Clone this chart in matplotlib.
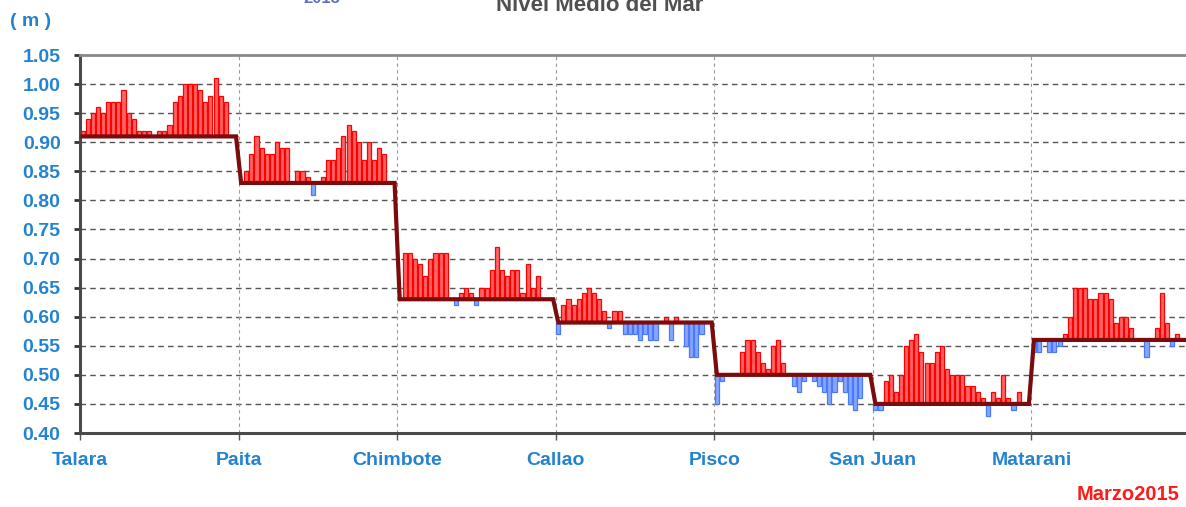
import numpy as np
import matplotlib
matplotlib.use("Agg")
from matplotlib import pyplot as plt

plt.rcParams['font.family'] = ['Liberation Sans', 'DejaVu Sans']

# stations along the coast and their mean sea level (m)
stations = ['Talara', 'Paita', 'Chimbote', 'Callao', 'Pisco', 'San Juan', 'Matarani']
mean_level = [0.91, 0.83, 0.63, 0.59, 0.50, 0.45, 0.56]

# daily sea level, March 2015 (31 days per station)
talara = [0.92, 0.94, 0.95, 0.96, 0.95, 0.97, 0.97, 0.97, 0.99, 0.95, 0.94, 0.92, 0.92, 0.92, 0.91, 0.92,
          0.92, 0.93, 0.97, 0.98, 1.00, 1.00, 1.00, 0.99, 0.97, 0.98, 1.01, 0.98, 0.97, 0.91, 0.91]
paita = [0.83, 0.85, 0.88, 0.91, 0.89, 0.88, 0.88, 0.90, 0.89, 0.89, 0.83, 0.85, 0.85, 0.84, 0.81, 0.83,
         0.84, 0.87, 0.87, 0.89, 0.91, 0.93, 0.92, 0.90, 0.87, 0.90, 0.87, 0.89, 0.88, 0.83, 0.83]
chimbote = [0.63, 0.71, 0.71, 0.70, 0.69, 0.67, 0.70, 0.71, 0.71, 0.71, 0.63, 0.62, 0.64, 0.65, 0.64, 0.62,
            0.65, 0.65, 0.68, 0.72, 0.68, 0.67, 0.68, 0.68, 0.64, 0.69, 0.65, 0.67, 0.63, 0.63, 0.63]
callao = [0.57, 0.62, 0.63, 0.62, 0.63, 0.64, 0.65, 0.64, 0.63, 0.61, 0.58, 0.61, 0.61, 0.57, 0.57, 0.57,
          0.56, 0.57, 0.56, 0.56, 0.59, 0.60, 0.56, 0.60, 0.59, 0.55, 0.53, 0.53, 0.57, 0.59, 0.59]
pisco = [0.45, 0.49, 0.50, 0.50, 0.50, 0.54, 0.56, 0.56, 0.54, 0.52, 0.51, 0.55, 0.56, 0.52, 0.50, 0.48,
         0.47, 0.49, 0.50, 0.49, 0.48, 0.47, 0.45, 0.47, 0.49, 0.47, 0.45, 0.44, 0.46, 0.50, 0.50]
san_juan = [0.44, 0.44, 0.49, 0.50, 0.47, 0.50, 0.55, 0.56, 0.57, 0.54, 0.52, 0.52, 0.54, 0.55, 0.51, 0.50,
            0.50, 0.50, 0.48, 0.48, 0.47, 0.46, 0.43, 0.47, 0.46, 0.50, 0.46, 0.44, 0.47, 0.45, 0.45]
matarani = [0.54, 0.54, 0.56, 0.54, 0.54, 0.55, 0.57, 0.60, 0.65, 0.65, 0.65, 0.63, 0.63, 0.64, 0.64, 0.63,
            0.59, 0.60, 0.60, 0.58, 0.56, 0.56, 0.53, 0.56, 0.58, 0.64, 0.59, 0.55, 0.57, 0.56, 0.56]

daily = [talara, paita, chimbote, callao, pisco, san_juan, matarani]
ndays = 31

blue_txt = '#2383d0'
W, H = 1186, 507

fig = plt.figure(figsize=(W / 100, H / 100), dpi=100)
ax = fig.add_axes([80 / W, 1 - 433 / H, 1110 / W, 378 / H])

level = np.concatenate(daily)
base = np.repeat(mean_level, ndays)
x = np.arange(len(level)) + 0.5
up = level >= base

ax.bar(x[up], (level - base)[up], bottom=base[up], width=0.8,
       facecolor='#ff6464', edgecolor='#ff0000', linewidth=0.9, zorder=3)
ax.bar(x[~up], (level - base)[~up], bottom=base[~up], width=0.8,
       facecolor='#86a6ff', edgecolor='#4a78ff', linewidth=0.9, zorder=3)
ax.plot(x, base, color='#7a0c0c', lw=3, zorder=4, solid_joinstyle='miter')

ax.set_xlim(0, len(level))
ax.set_ylim(0.40, 1.05)
yt = np.round(np.arange(0.40, 1.051, 0.05), 2)
ax.set_yticks(yt)
ax.set_yticklabels(['%.2f' % v for v in yt])
xt = np.arange(len(stations)) * ndays
ax.set_xticks(xt)
ax.set_xticklabels(stations)

for v in yt[1:-1]:
    ax.axhline(v, color='#555555', lw=1, ls=(0, (4, 3)), zorder=1)
for v in xt[1:]:
    ax.axvline(v, color='#9a9a9a', lw=0.8, ls=(0, (3, 3)), zorder=1)

for side in ['left', 'bottom']:
    ax.spines[side].set_color('#4a4a4a')
    ax.spines[side].set_linewidth(2.2)
ax.spines['top'].set_color('#8a8a8a')
ax.spines['top'].set_linewidth(2)
ax.spines['right'].set_visible(False)

ax.tick_params(axis='y', length=4, width=2, color='#333333', pad=10,
               labelsize=14, labelcolor=blue_txt)
ax.tick_params(axis='x', length=5, width=1, color='#555555', pad=9,
               labelsize=14, labelcolor=blue_txt)
for lab in ax.get_xticklabels() + ax.get_yticklabels():
    lab.set_fontweight('bold')

fig.text(31 / W, 1 - 22 / H, '( m )', color=blue_txt, fontsize=14,
         fontweight='bold', ha='center', va='center')
fig.text(1077 / W, 1 - 495 / H, 'Marzo2015', color='#ff1a1a', fontsize=14.5,
         fontweight='bold', ha='left', va='center')

# header lines sit above the top edge, only their lower part shows
fig.text(600 / W, 1 - 11 / H, 'Nivel Medio del Mar', color='#505050',
         fontsize=16, fontweight='bold', ha='center', va='baseline')
fig.text(322 / W, 1 - 3 / H, '2015', color='#5a6fd0', fontsize=12,
         fontweight='bold', ha='center', va='baseline')

fig.savefig('out.png', dpi=100)
